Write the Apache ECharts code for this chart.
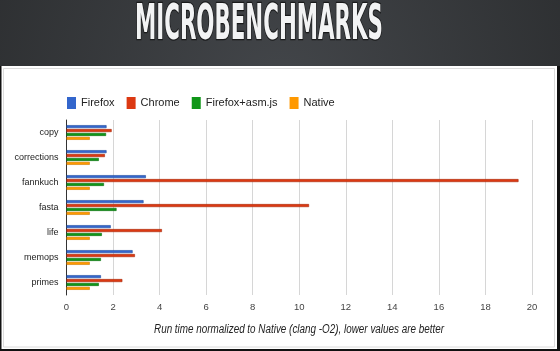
<!DOCTYPE html>
<html>
<head>
<meta charset="utf-8">
<script src="https://cdn.jsdelivr.net/npm/echarts@6/dist/echarts.min.js"></script>
<style>
  html, body { margin: 0; padding: 0; background: #fff; }
  #chart { width: 560px; height: 351px; }
</style>
</head>
<body>
<div id="chart"></div>
<script>
  // benchmark names, top to bottom
  var benchmarks = ['copy', 'corrections', 'fannkuch', 'fasta', 'life', 'memops', 'primes'];
  var seriesNames = ['Firefox', 'Chrome', 'Firefox+asm.js', 'Native'];
  var firefox = [1.72, 1.72, 3.41, 3.31, 1.90, 2.84, 1.48];
  var chrome  = [1.94, 1.65, 19.42, 10.42, 4.10, 2.94, 2.40];
  var asmjs   = [1.70, 1.39, 1.61, 2.15, 1.52, 1.48, 1.39];
  var native  = [1.0, 1.0, 1.0, 1.0, 1.0, 1.0, 1.0];
  var xTicks  = [0, 2, 4, 6, 8, 10, 12, 14, 16, 18, 20];

  var colors  = ['#3366cc', '#dc3912', '#109618', '#ff9900'];
  var borders = ['#1d4a9e', '#a82a0c', '#0b6e11', '#cc7a00'];
  var values  = [firefox, chrome, asmjs, native];
  var sans    = '"Liberation Sans", Arial, sans-serif';
  var axisTitle = 'Run time normalized to Native (clang -O2), lower values are better';

  // measure texts so they can be squeezed like the narrow fonts of the original
  var ctx = document.createElement('canvas').getContext('2d');
  var titleFont = 'bold 49px "DejaVu Sans Condensed", "DejaVu Sans", sans-serif';
  ctx.font = titleFont;
  var titleScale = 248 / ctx.measureText('MICROBENCHMARKS').width;
  var nameFont = 'italic 12px ' + sans;
  ctx.font = nameFont;
  var nameScale = 290 / ctx.measureText(axisTitle).width;

  var chart = echarts.init(document.getElementById('chart'));

  var series = seriesNames.map(function (name, i) {
    return {
      name: name,
      type: 'bar',
      data: values[i],
      barWidth: 3,
      barGap: '30%',
      itemStyle: { color: colors[i], borderColor: borders[i], borderWidth: 0.6 },
      silent: true
    };
  });

  var option = {
    animation: false,
    color: colors,
    graphic: [
      {
        type: 'rect', z: -10,
        shape: { x: 0, y: 0, width: 560, height: 66 },
        style: {
          fill: {
            type: 'radial', x: 280, y: 90, r: 330, global: true,
            colorStops: [{ offset: 0, color: '#43464a' }, { offset: 1, color: '#2c2e30' }]
          }
        }
      },
      {
        type: 'rect', z: -10,
        shape: { x: 0, y: 66, width: 560, height: 285 },
        style: { fill: '#fff' }
      },
      {
        type: 'rect', z: -9,
        shape: { x: 3.5, y: 68.5, width: 551, height: 278.5 },
        style: { fill: 'none', stroke: '#dcdcdc', lineWidth: 1 }
      },
      { type: 'rect', z: -8, shape: { x: 0, y: 66, width: 1.5, height: 285 }, style: { fill: '#111' } },
      { type: 'rect', z: -8, shape: { x: 557, y: 66, width: 3, height: 285 }, style: { fill: '#111' } },
      { type: 'rect', z: -8, shape: { x: 0, y: 349, width: 560, height: 2 }, style: { fill: '#111' } },
      {
        type: 'text', z: 10,
        x: 259, y: 26, scaleX: titleScale,
        style: {
          text: 'MICROBENCHMARKS',
          x: 0, y: 0,
          align: 'center', verticalAlign: 'middle',
          font: titleFont,
          fill: '#f2f3f4',
          stroke: '#18191a',
          lineWidth: 2.5
        }
      },
      {
        type: 'text', z: 10,
        x: 299, y: 330, scaleX: nameScale,
        style: {
          text: axisTitle,
          x: 0, y: 0,
          align: 'center', verticalAlign: 'middle',
          font: nameFont,
          fill: '#222'
        }
      }
    ],
    legend: {
      data: seriesNames,
      left: 62,
      top: 92,
      icon: 'rect',
      itemWidth: 9,
      itemHeight: 12,
      itemGap: 12,
      itemStyle: { borderWidth: 0 },
      textStyle: { fontFamily: sans, fontSize: 11, color: '#222' }
    },
    grid: { left: 66.5, right: 28, top: 120, bottom: 56 },
    xAxis: {
      type: 'value',
      min: xTicks[0],
      max: xTicks[xTicks.length - 1],
      interval: 2,
      axisLine: { show: false },
      axisTick: { show: false },
      axisLabel: { fontFamily: sans, fontSize: 9.5, color: '#444', margin: 7 },
      splitLine: { lineStyle: { color: '#d6d6d6', width: 1 } }
    },
    yAxis: {
      type: 'category',
      data: benchmarks,
      inverse: true,
      axisLine: { show: true, lineStyle: { color: '#333', width: 1 } },
      axisTick: { show: false },
      axisLabel: { fontFamily: sans, fontSize: 9, color: '#222', margin: 8 },
      splitLine: { show: false }
    },
    series: series
  };
  chart.setOption(option);
</script>
</body>
</html>
